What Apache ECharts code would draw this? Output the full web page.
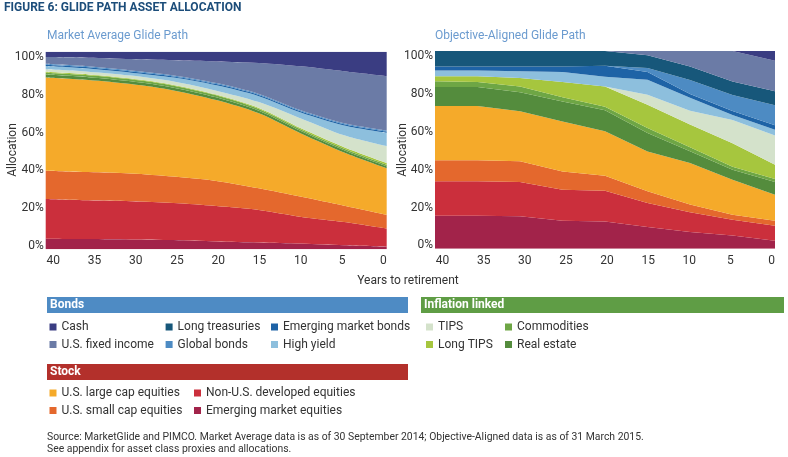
<!DOCTYPE html>
<html>
<head>
<meta charset="utf-8">
<title>Glide Path Asset Allocation</title>
<script src="https://cdn.jsdelivr.net/npm/echarts@6/dist/echarts.min.js"></script>
<style>
  html, body { margin: 0; padding: 0; background: #fff; }
  #chart { width: 788px; height: 457px; }
</style>
</head>
<body>
<div id="chart"></div>
<script>
// 横轴：距退休年数
const years = ['40', '35', '30', '25', '20', '15', '10', '5', '0']
const xTicks = [40, 35, 30, 25, 20, 15, 10, 5, 0]
const yTicks = [0, 20, 40, 60, 80, 100]

// Market Average Glide Path（%）
const maEmEquity = [5.4, 5.2, 5.0, 4.7, 4.0, 3.5, 2.9, 2.0, 1.3]
const maNonUs = [20.1, 19.6, 19.3, 18.7, 17.9, 16.4, 13.5, 11.8, 9.2]
const maSmallCap = [14.3, 14.3, 14.1, 13.4, 12.7, 11.0, 10.2, 8.3, 7.0]
const maLargeCap = [47.2, 46.6, 45.2, 43.6, 40.9, 37.9, 31.9, 26.9, 23.5]
const maRealEstate = [1.4, 1.4, 1.4, 1.4, 1.4, 1.3, 1.2, 1.1, 1.0]
const maCommodities = [1.0, 1.0, 1.0, 1.0, 1.0, 0.9, 0.8, 0.8, 0.8]
const maLongTips = [0.4, 0.4, 0.4, 0.4, 0.4, 0.5, 0.6, 0.8, 0.9]
const maTips = [1.3, 1.4, 1.5, 1.7, 2.0, 3.0, 5.0, 6.0, 8.5]
const maHighYield = [1.7, 1.6, 1.5, 2.0, 2.7, 3.0, 3.0, 5.0, 6.8]
const maEmBonds = [0.6, 0.6, 0.6, 0.6, 0.6, 0.6, 0.6, 0.6, 0.6]
const maGlobalBonds = [0.5, 0.5, 0.5, 0.5, 0.5, 0.5, 0.5, 0.5, 0.5]
const maLongTreasuries = [0, 0, 0, 0, 0, 0, 0, 0, 0]
const maUsFixed = [3.4, 4.4, 5.8, 7.7, 11.0, 15.7, 22.4, 26.3, 27.5]
const maCash = [2.7, 3.0, 3.7, 4.3, 4.9, 5.7, 7.4, 9.9, 12.4]

// Objective-Aligned Glide Path（%）
const oaEmEquity = [16.7, 16.7, 16.4, 14.2, 13.8, 11.0, 8.4, 6.7, 4.0]
const oaNonUs = [17.4, 17.4, 17.3, 15.6, 15.5, 12.1, 10.1, 8.0, 7.6]
const oaSmallCap = [10.6, 10.6, 10.5, 9.3, 7.6, 5.9, 3.8, 2.5, 2.6]
const oaLargeCap = [27.5, 27.5, 25.3, 25.3, 22.5, 20.2, 21.0, 17.7, 13.1]
const oaRealEstate = [9.6, 9.6, 9.6, 10.1, 10.6, 9.3, 6.0, 5.0, 6.4]
const oaCommodities = [2.9, 2.5, 3.0, 2.1, 1.8, 2.5, 2.0, 1.6, 1.5]
const oaLongTips = [2.5, 2.9, 4.2, 7.7, 10.2, 11.8, 11.5, 11.8, 7.3]
const oaTips = [0, 0, 0, 0, 0, 5.1, 7.0, 11.8, 14.8]
const oaHighYield = [2.9, 2.9, 3.4, 5.1, 5.0, 7.6, 6.5, 2.5, 2.9]
const oaEmBonds = [2.1, 2.1, 2.5, 2.8, 5.5, 3.9, 2.0, 2.0, 2.2]
const oaGlobalBonds = [0, 0, 0, 0, 0, 2.0, 7.0, 8.2, 10.1]
const oaLongTreasuries = [7.8, 7.8, 7.8, 7.8, 7.5, 6.4, 6.8, 6.8, 7.1]
const oaUsFixed = [0, 0, 0, 0, 0, 2.2, 7.9, 15.4, 15.5]
const oaCash = [0, 0, 0, 0, 0, 0, 0, 0, 4.9]

const font = 'Roboto, "Noto Sans", sans-serif'

// 资产类别（自下而上堆叠）
const assets = [
  { name: 'Emerging market equities', color: '#a2234a', ma: maEmEquity, oa: oaEmEquity },
  { name: 'Non-U.S. developed equities', color: '#cb2f3c', ma: maNonUs, oa: oaNonUs },
  { name: 'U.S. small cap equities', color: '#e4682d', ma: maSmallCap, oa: oaSmallCap },
  { name: 'U.S. large cap equities', color: '#f5aa2a', ma: maLargeCap, oa: oaLargeCap },
  { name: 'Real estate', color: '#548c3d', ma: maRealEstate, oa: oaRealEstate },
  { name: 'Commodities', color: '#6ea645', ma: maCommodities, oa: oaCommodities },
  { name: 'Long TIPS', color: '#a6c63e', ma: maLongTips, oa: oaLongTips },
  { name: 'TIPS', color: '#d4e2cb', ma: maTips, oa: oaTips },
  { name: 'High yield', color: '#8dbfdd', ma: maHighYield, oa: oaHighYield },
  { name: 'Emerging market bonds', color: '#1e63a6', ma: maEmBonds, oa: oaEmBonds },
  { name: 'Global bonds', color: '#4d8bc3', ma: maGlobalBonds, oa: oaGlobalBonds },
  { name: 'Long treasuries', color: '#17577a', ma: maLongTreasuries, oa: oaLongTreasuries },
  { name: 'U.S. fixed income', color: '#6b7ba6', ma: maUsFixed, oa: oaUsFixed },
  { name: 'Cash', color: '#3a3d82', ma: maCash, oa: oaCash }
]

function makeSeries(item, data, idx, smooth) {
  return {
    name: item.name,
    type: 'line',
    xAxisIndex: idx * 2,
    yAxisIndex: idx * 2,
    stack: 'glide' + idx,
    data: data,
    smooth: smooth,
    symbol: 'none',
    silent: true,
    lineStyle: { width: 0 },
    itemStyle: { color: item.color },
    areaStyle: { color: item.color, opacity: 1 },
    emphasis: { disabled: true }
  }
}

// 坐标轴（主轴隐藏，另加一条只显示刻度文字的轴）
function makeXAxes(idx) {
  return [{
    gridIndex: idx, type: 'category', data: years, boundaryGap: false, show: false, position: 'bottom'
  }, {
    gridIndex: idx, type: 'value', position: 'bottom', min: -0.41, max: 40.92, inverse: true,
    axisLine: { show: false }, axisTick: { show: false }, splitLine: { show: false },
    axisLabel: { customValues: xTicks, margin: 6, color: '#333', fontSize: 12, fontFamily: font }
  }]
}

function makeYAxes(idx) {
  return [{
    gridIndex: idx, type: 'value', min: 0, max: 100, show: false, position: 'left'
  }, {
    gridIndex: idx, type: 'value', position: 'left', min: -1.75, max: 102.8,
    axisLine: { show: false }, axisTick: { show: false }, splitLine: { show: false },
    axisLabel: { customValues: yTicks, formatter: '{value}%', margin: 2, color: '#333', fontSize: 12, fontFamily: font }
  }]
}

function makeLegend(left, top, names) {
  return {
    orient: 'vertical', left: left, top: top, data: names,
    icon: 'rect', itemWidth: 7, itemHeight: 7, itemGap: 3.5, padding: 0,
    selectedMode: false,
    textStyle: { color: '#333', fontSize: 12, lineHeight: 14, fontFamily: font }
  }
}

function headerBar(x, y, w, color, text) {
  return [{
    type: 'rect', shape: { x: x, y: y, width: w, height: 16 }, style: { fill: color }, silent: true
  }, {
    type: 'text', x: x + 3, y: y + 8,
    style: { text: text, fill: '#fff', font: 'bold 12px ' + font, verticalAlign: 'middle' }, silent: true
  }]
}

// 纵轴标题 Allocation
function axisName(x, y) {
  return {
    type: 'text', x: x, y: y, rotation: Math.PI / 2,
    style: { text: 'Allocation', fill: '#333', font: '12px ' + font, align: 'center', verticalAlign: 'middle' }
  }
}

let series = []
assets.forEach(item => {
  series.push(makeSeries(item, item.ma, 0, 0.3))
})
assets.forEach(item => {
  series.push(makeSeries(item, item.oa, 1, false))
})

let option = {
  animation: false,
  backgroundColor: '#fff',
  title: [{
    text: 'FIGURE 6: GLIDE PATH ASSET ALLOCATION', left: 4, top: 2, padding: 0,
    textStyle: { color: '#1c4d7a', fontSize: 12, fontWeight: 'bold', fontFamily: font }
  }, {
    text: 'Market Average Glide Path', left: 47, top: 30, padding: 0,
    textStyle: { color: '#6b9bcf', fontSize: 12, fontWeight: 'normal', fontFamily: font }
  }, {
    text: 'Objective-Aligned Glide Path', left: 435, top: 30, padding: 0,
    textStyle: { color: '#6b9bcf', fontSize: 12, fontWeight: 'normal', fontFamily: font }
  }],
  grid: [
    { left: 45.7, top: 51.7, width: 341, height: 197.6 },
    { left: 435, top: 51, width: 340, height: 197.7 }
  ],
  xAxis: makeXAxes(0).concat(makeXAxes(1)),
  yAxis: makeYAxes(0).concat(makeYAxes(1)),
  legend: [
    makeLegend(49.5, 320, ['Cash', 'U.S. fixed income']),
    makeLegend(165.6, 320, ['Long treasuries', 'Global bonds']),
    makeLegend(271, 320, ['Emerging market bonds', 'High yield']),
    makeLegend(426, 320, ['TIPS', 'Long TIPS']),
    makeLegend(505, 320, ['Commodities', 'Real estate']),
    makeLegend(49.5, 386, ['U.S. large cap equities', 'U.S. small cap equities']),
    makeLegend(194, 386, ['Non-U.S. developed equities', 'Emerging market equities'])
  ],
  graphic: [].concat(
    headerBar(47, 297, 361, '#4e8bc4', 'Bonds'),
    headerBar(421, 297, 363, '#5f9d45', 'Inflation linked'),
    headerBar(47, 364, 361, '#b3302b', 'Stock'),
    [axisName(13, 150), axisName(403, 150), {
      type: 'text', x: 408, y: 281,
      style: { text: 'Years to retirement', fill: '#333', font: '12px ' + font, align: 'center', verticalAlign: 'middle' }
    }, {
      type: 'text', x: 47, y: 437,
      style: { text: 'Source: MarketGlide and PIMCO. Market Average data is as of 30 September 2014; Objective-Aligned data is as of 31 March 2015.', fill: '#333', font: '10.4px ' + font, verticalAlign: 'middle' }
    }, {
      type: 'text', x: 47, y: 449,
      style: { text: 'See appendix for asset class proxies and allocations.', fill: '#333', font: '10.4px ' + font, verticalAlign: 'middle' }
    }]
  ),
  series: series
}

let chart = echarts.init(document.getElementById('chart'), null, { renderer: 'canvas' })
chart.setOption(option)
</script>
</body>
</html>
